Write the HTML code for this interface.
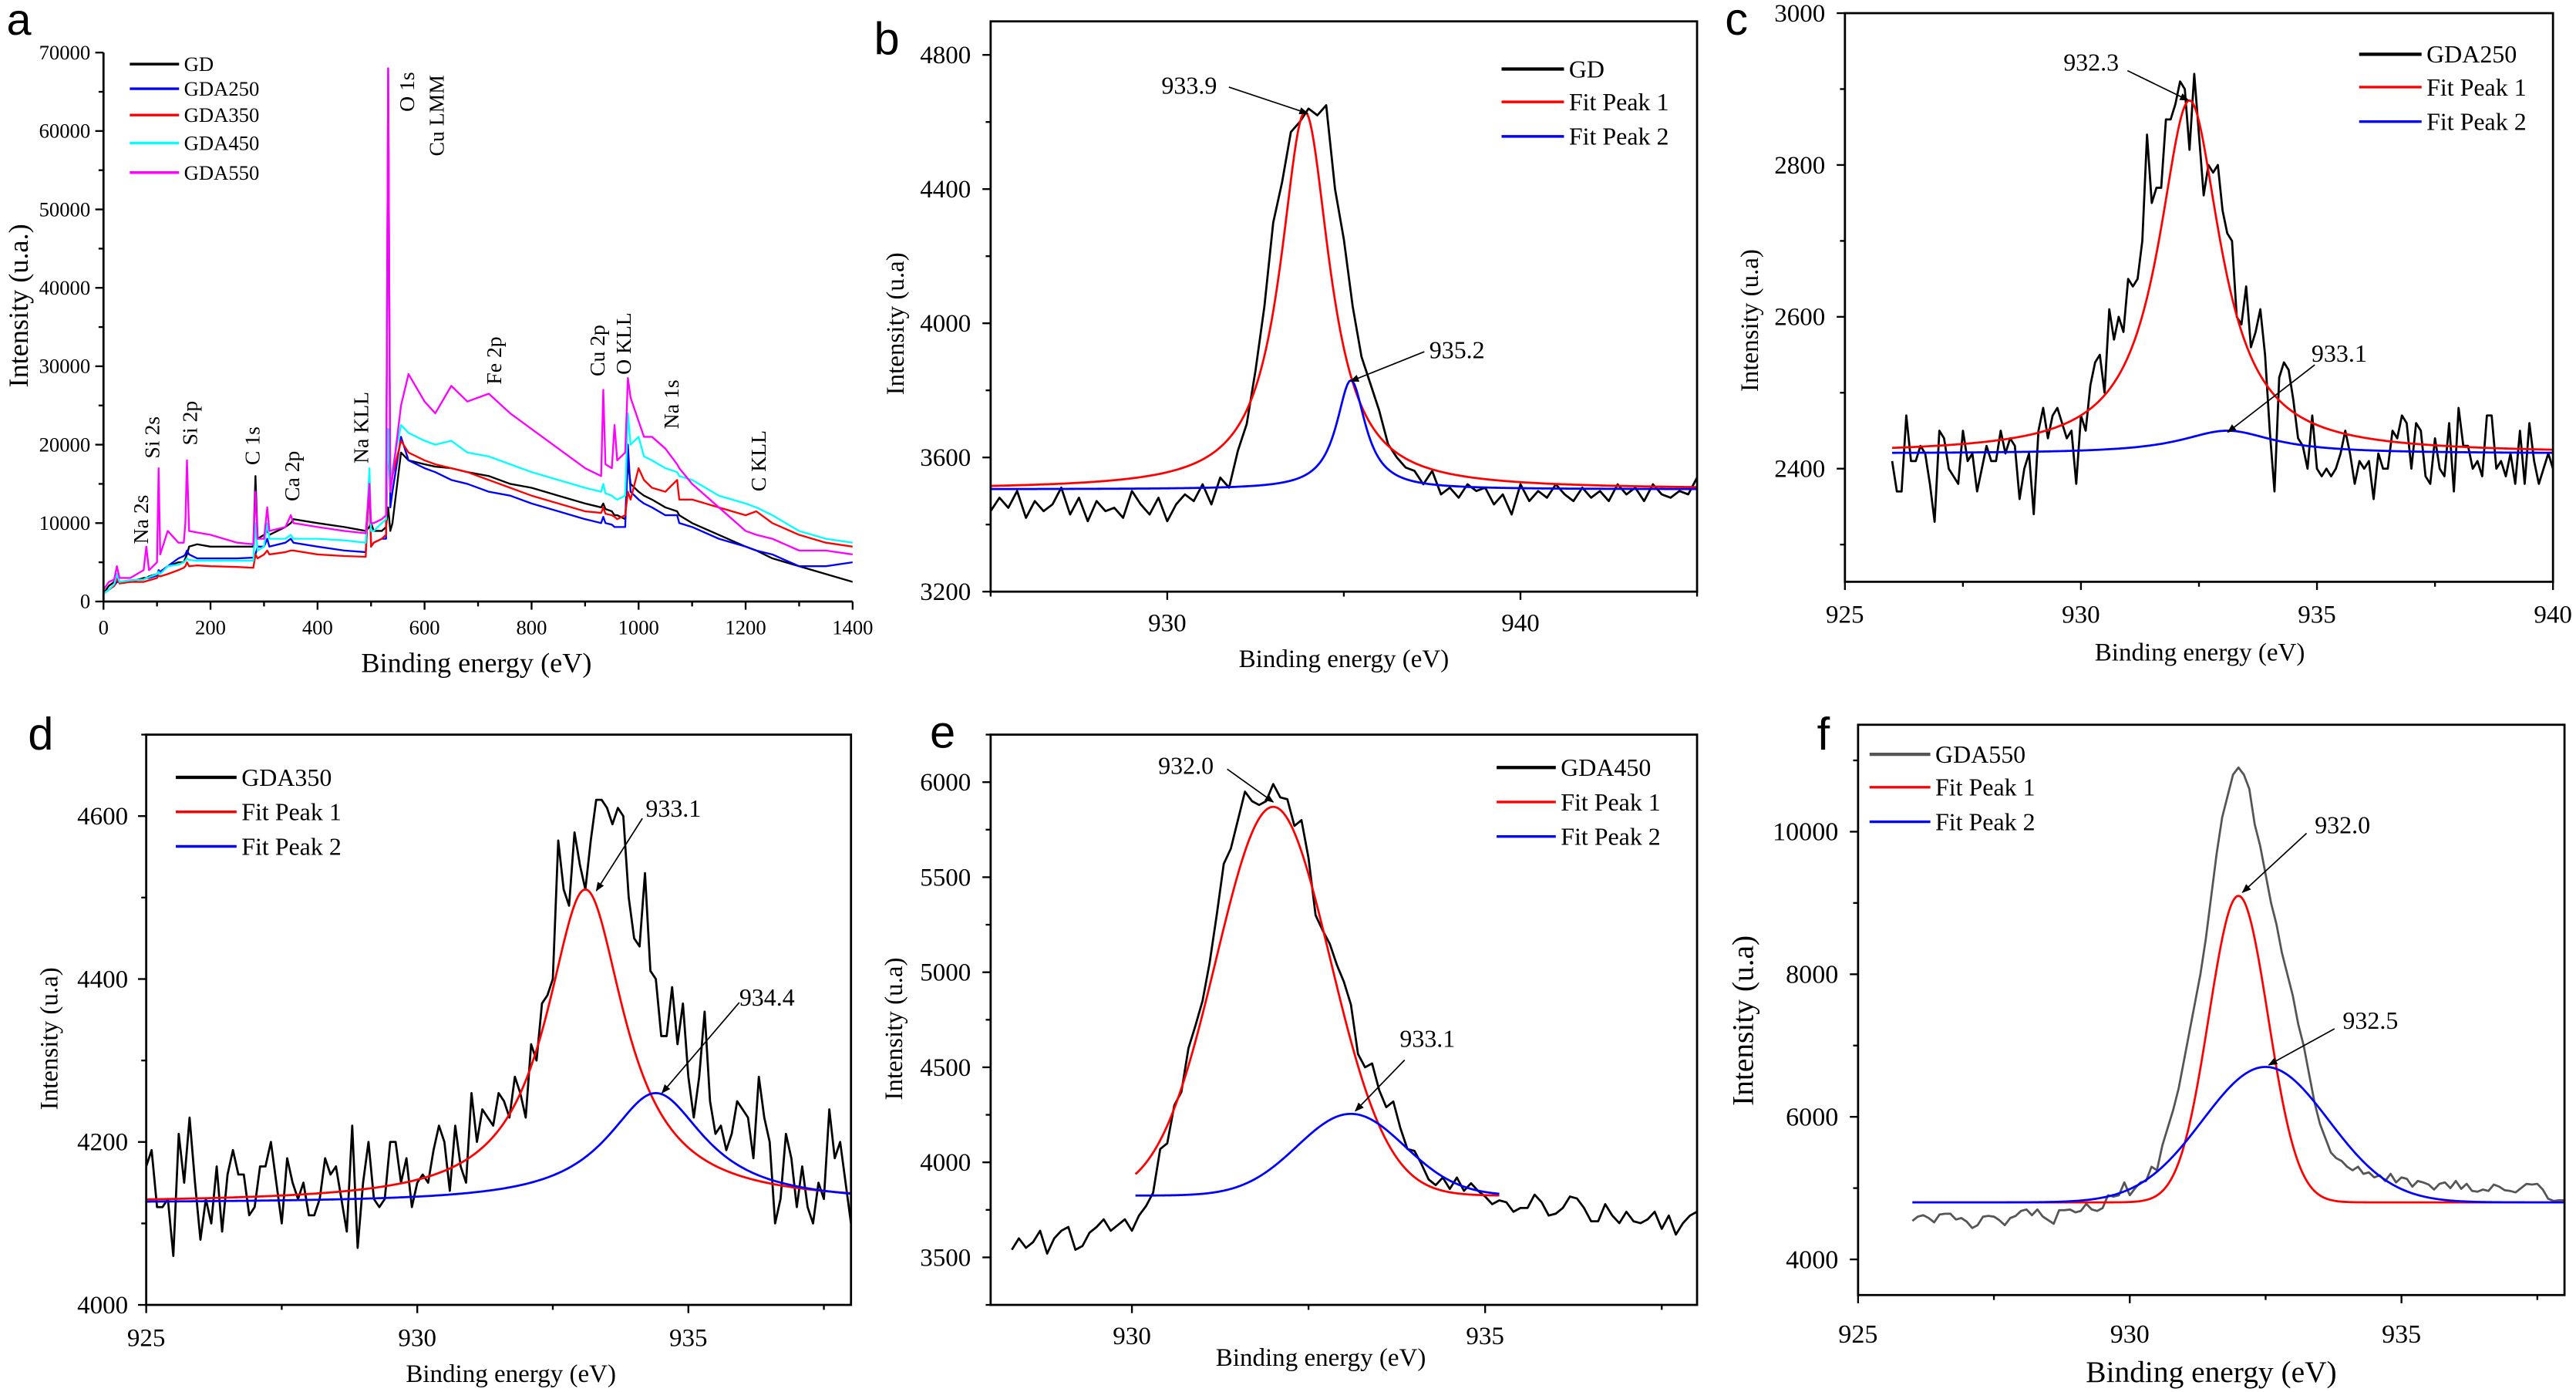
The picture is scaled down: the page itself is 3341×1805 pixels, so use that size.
<!DOCTYPE html>
<html><head><meta charset="utf-8">
<style>
html,body{margin:0;padding:0;background:#fff;}
svg{display:block;}
text{font-family:"Liberation Serif",serif;fill:#000;}
.lt{font-family:"Liberation Sans",sans-serif;}
</style></head>
<body>
<svg id="fig" xmlns="http://www.w3.org/2000/svg" width="3341" height="1805" viewBox="0 0 1568 847" preserveAspectRatio="none">
<defs><marker id="ah" viewBox="0 0 10 10" refX="9" refY="5" markerWidth="7" markerHeight="7" orient="auto"><path d="M0,1 L10,5 L0,9 z" fill="#000"/></marker></defs>
</svg>
<script>
// ---------- Panel a (survey) data, intensities in thousands ----------
const aEnergy=[0,10,20,25,30, 50,75,80,85,100, 103,106,120,140,150, 153,156,160,175,200, 250,280,284,288,300, 306,310,340,350,355, 400,450,490,497,500, 505,520,528,532,536, 540,556,570,600,620, 650,680,720,760,800, 850,900,930,934,938, 950,955,960,975,980, 985,1000,1010,1025,1050, 1072,1076,1100,1150,1200, 1220,1250,1300,1350,1400];
const aGD=[1.0,2.0,2.5,3.5,2.5, 2.5,3.0,3.0,3.2,3.5, 3.8,3.6,4.5,5.0,5.0, 5.5,6.0,7.0,7.3,7.0, 7.0,7.0,16.0,8.0,8.5, 9.0,8.5,9.5,10.0,10.5, 10.0,9.5,9.0,9.5,10.0, 9.0,9.0,9.5,12.0,9.0, 10.0,19.0,18.0,17.5,17.2, 17.0,16.5,16.0,15.0,14.5, 13.5,12.5,12.0,12.5,11.8, 11.5,11.0,11.0,10.5,18.0, 15.0,14.0,13.5,13.0,12.0, 11.5,11.0,10.0,8.5,7.0, 6.5,5.5,4.5,3.5,2.5];
const aGDA250=[1.0,1.5,2.0,2.5,2.5, 2.7,2.8,3.0,3.0,3.3, 4.0,3.8,4.5,5.5,5.8, 6.0,6.5,6.0,5.5,5.5, 5.5,5.6,6.0,7.0,7.0, 8.0,7.0,7.5,8.0,7.5, 7.0,6.5,6.3,15.0,7.0, 7.5,8.0,8.0,68.0,12.0, 14.0,21.0,18.0,17.0,16.5, 15.5,15.0,14.0,13.5,12.5, 11.5,10.5,10.0,10.8,10.0, 9.8,9.5,9.5,9.5,20.0, 14.0,13.0,12.5,12.0,11.0, 11.0,10.0,9.5,8.0,7.0, 6.5,6.0,4.5,4.5,5.0];
const aGDA350=[1.0,1.5,2.0,3.0,2.3, 2.5,2.5,2.6,2.7,3.0, 3.3,3.2,3.5,4.0,4.3, 4.5,5.0,4.5,4.6,4.5, 4.4,4.3,6.0,5.5,6.0, 6.5,6.0,6.3,6.5,6.5, 6.0,5.8,5.7,16.0,7.0, 7.5,8.0,8.5,21.0,14.0, 16.0,20.5,19.0,18.0,17.5, 17.0,16.5,15.5,14.5,13.5, 12.5,11.5,11.3,12.0,11.2, 11.0,10.8,10.5,11.0,14.0, 13.0,17.0,15.5,14.5,14.0, 15.5,13.0,13.0,12.0,11.0, 11.5,10.0,8.5,7.5,7.0];
const aGDA450=[1.0,1.5,2.2,3.5,2.5, 2.7,2.8,3.0,3.1,3.5, 3.8,3.5,4.5,4.7,5.0, 5.2,5.5,5.3,5.2,5.2, 5.2,5.2,10.0,6.5,7.0, 10.0,8.0,8.0,8.5,8.0, 8.0,7.8,7.5,17.0,9.0, 9.0,10.0,10.5,22.0,14.0, 17.0,22.5,21.5,20.5,20.0, 20.5,19.0,18.5,17.5,16.5, 15.5,14.5,14.0,15.0,13.8, 13.5,13.2,13.0,13.5,24.0, 20.0,21.0,18.5,18.0,17.0, 16.5,16.0,15.5,13.5,12.5, 12.0,11.0,9.0,8.0,7.5];
const aGDA550=[1.5,2.5,2.8,4.5,3.0, 3.0,4.0,7.0,4.0,5.0, 17.0,6.0,9.0,7.5,7.5, 10.0,18.0,9.0,8.8,8.5, 7.5,7.3,14.0,8.0,8.0, 12.0,9.0,9.5,11.0,10.0, 9.5,9.0,8.7,15.0,10.0, 10.0,10.5,11.0,68.0,14.0, 16.0,25.0,29.0,25.5,24.0, 27.5,25.5,26.5,24.0,22.0, 19.5,17.0,16.0,27.0,17.5, 17.0,22.5,18.0,19.0,28.5, 26.0,23.0,21.0,21.0,19.5, 17.5,17.0,15.0,12.0,9.0, 8.5,8.0,6.5,6.5,6.0];
const aSeriesNames=["GD","GDA250","GDA350","GDA450","GDA550"];

// ---------- Panel b (GD) ----------
const bStart=925, bStep=0.25;
const bGD=[3440,3480,3450,3500,3420,3470,3440,3460,3510,3430,3480,3410,3470,3440,3450,3420,3500,3460,3430,3480,3410,3460,3490,3470,3520,3460,3540,3510,3620,3700,3860,4050,4300,4420,4570,4600,4640,4620,4650,4400,4250,4050,3900,3820,3740,3640,3600,3570,3560,3520,3560,3490,3510,3480,3520,3500,3510,3460,3490,3430,3520,3470,3500,3480,3520,3490,3470,3510,3480,3500,3470,3520,3490,3510,3470,3520,3490,3480,3500,3490,3540];
const bFit1=[933.9,1125,0.85,3505];
const bFit2=[935.2,325,0.5,3505];

// ---------- Panel c (GDA250) ----------
const cStart=926, cStep=0.1;
const cGDA250=[2410,2370,2370,2470,2410,2410,2430,2420,2380,2330,2450,2440,2400,2390,2380,2450,2410,2420,2370,2400,2430,2410,2410,2450,2420,2440,2430,2360,2400,2420,2340,2450,2480,2440,2470,2480,2460,2440,2450,2380,2470,2450,2510,2540,2550,2500,2610,2570,2600,2580,2650,2640,2650,2700,2840,2750,2770,2770,2860,2860,2880,2910,2900,2820,2920,2840,2760,2800,2790,2800,2740,2710,2700,2600,2590,2640,2560,2580,2610,2550,2450,2370,2520,2540,2530,2490,2440,2430,2400,2470,2400,2390,2400,2390,2400,2420,2450,2420,2380,2410,2400,2410,2360,2420,2400,2400,2450,2440,2470,2460,2400,2460,2450,2390,2380,2440,2400,2390,2460,2370,2480,2430,2430,2400,2410,2390,2470,2470,2400,2410,2390,2420,2380,2450,2380,2460,2410,2380,2400,2420,2400];
const cFit1=[932.3,465,0.8,2420];
const cFit2=[933.1,30,1.2,2420];

// ---------- Panel d (GDA350) ----------
const dStart=925, dStep=0.1;
const dGDA350=[4170,4190,4120,4120,4130,4060,4210,4150,4230,4150,4080,4130,4100,4170,4090,4160,4190,4160,4160,4110,4120,4170,4170,4200,4150,4100,4180,4150,4130,4150,4110,4110,4130,4180,4160,4170,4130,4090,4220,4070,4150,4200,4130,4120,4130,4200,4200,4150,4180,4120,4150,4160,4150,4190,4220,4200,4140,4220,4170,4150,4260,4200,4240,4230,4220,4260,4250,4230,4280,4260,4230,4320,4300,4370,4380,4400,4570,4510,4490,4580,4540,4510,4570,4620,4620,4610,4590,4610,4600,4500,4450,4440,4530,4410,4400,4330,4330,4390,4320,4370,4280,4230,4280,4360,4250,4210,4220,4190,4210,4250,4240,4230,4180,4280,4230,4200,4100,4130,4210,4180,4120,4170,4120,4100,4150,4130,4240,4180,4200,4150,4100];
const dFit1=[933.1,385,0.88,4125];
const dFit2=[934.4,135,1.1,4125];

// ---------- Panel e (GDA450) ----------
const eStart=928.3, eStep=0.1;
const eGDA450=[3540,3600,3550,3580,3640,3520,3600,3640,3660,3540,3560,3630,3660,3700,3640,3670,3700,3640,3720,3770,3840,4070,4100,4300,4370,4600,4720,4850,5050,5300,5570,5650,5800,5950,5900,5880,5900,5990,5920,5910,5770,5800,5600,5300,5220,5150,5040,4950,4830,4570,4500,4520,4380,4290,4320,4180,4070,4060,3990,3910,3880,3920,3860,3920,3850,3890,3850,3820,3780,3800,3790,3740,3760,3760,3830,3790,3720,3730,3760,3820,3810,3760,3690,3690,3780,3720,3680,3740,3690,3680,3700,3740,3650,3720,3620,3680,3720,3740];
const eFit1=[932.0,2045,0.81,3825];
const eFit2=[933.1,430,0.76,3825];
const eFitRange=[930.05,935.2];

// ---------- Panel f (GDA550) ----------
const fStart=926, fStep=0.1;
const fGDA550=[4540,4600,4620,4580,4520,4630,4640,4640,4560,4580,4530,4440,4480,4600,4610,4600,4550,4480,4580,4610,4680,4700,4620,4700,4600,4550,4500,4690,4690,4700,4660,4680,4780,4700,4680,4720,4900,4880,4900,5080,
4900,5000,5080,5100,5300,5250,5600,5850,6100,6400,6800,7200,7600,8000,8500,9100,9700,10200,10500,10800,10900,10800,10600,10100,9800,9400,9000,8700,8300,8000,7700,7300,7000,6600,6200,5900,5700,5500,
5420,5380,5300,5250,5300,5200,5220,5150,5180,5100,5200,5080,5150,5130,5020,5100,5080,5050,4980,5060,5080,5000,5100,4990,5060,4960,4950,4980,4960,5050,5020,4970,4960,4940,5000,5060,5050,5060,4980,4850,4820,4830,4830];
const fFit1=[932.0,4300,0.545,4800];
const fFit2=[932.5,1900,1.16,4800];
const fFitRange=[926,938];

// ---------- helpers ----------
const svg=document.getElementById('fig');
const NS='http://www.w3.org/2000/svg';
function mk(tag,attrs,name,parent){
  const e=document.createElementNS(NS,tag);
  for(const k in attrs) e.setAttribute(k,attrs[k]);
  
  
  (parent||svg).appendChild(e);
  return e;
}
function txt(s,x,y,size,name,opts){
  opts=opts||{};
  const a={x:x,y:y,'font-size':size};
  if(opts.anchor) a['text-anchor']=opts.anchor;
  if(opts.rot) a.transform='rotate(-90 '+x+' '+y+')';
  if(opts.cls) a['class']=opts.cls;
  const t=mk('text',a,name,opts.parent);
  t.textContent=s;
  return t;
}
function lor(x,p){const d=(x-p[0])/p[2];return p[3]+p[1]/(1+d*d);}
function gau(x,p){const d=(x-p[0])/p[2];return p[3]+p[1]*Math.exp(-0.5*d*d);}

function axes(P){
  const g=mk('g',{},P.id+'-panel');
  P.g=g;
  P.sx=v=>P.L+(v-P.x0)/(P.x1-P.x0)*(P.R-P.L);
  P.sy=v=>P.B-(v-P.y0)/(P.y1-P.y0)*(P.B-P.T);
  const cp=mk('clipPath',{id:'clip-'+P.id},P.id+'-clip',g);
  mk('rect',{x:P.L,y:P.T,width:P.R-P.L,height:P.B-P.T},P.id+'-clip-rect',cp);
  P.plot=mk('g',{'clip-path':'url(#clip-'+P.id+')'},P.id+'-plot-area',g);
  if(P.box){
    mk('rect',{x:P.L,y:P.T,width:P.R-P.L,height:P.B-P.T,fill:'none',stroke:'#000','stroke-width':1.3},P.id+'-frame',g);
  }else{
    mk('line',{x1:P.L,y1:P.T,x2:P.L,y2:P.B,stroke:'#000','stroke-width':1.3},P.id+'-y-axis',g);
    mk('line',{x1:P.L,y1:P.B,x2:P.R,y2:P.B,stroke:'#000','stroke-width':1.3},P.id+'-x-axis',g);
  }
  const eps=1e-6;
  for(let v=Math.ceil(P.x0/P.xMin-eps)*P.xMin; v<=P.x1+eps; v+=P.xMin){
    const maj=Math.abs(v/P.xMaj-Math.round(v/P.xMaj))<1e-6;
    const x=P.sx(v);
    mk('line',{x1:x,y1:P.B,x2:x,y2:P.B+(maj?5:3),stroke:'#000','stroke-width':1.1},P.id+'-x-tick',g);
    if(maj) txt(String(Math.round(v)),x,P.xlabY,P.fs,P.id+'-x-tick-label',{anchor:'middle',parent:g});
  }
  for(let v=Math.ceil(P.y0/P.yMin-eps)*P.yMin; v<=P.y1+eps; v+=P.yMin){
    const maj=Math.abs(v/P.yMaj-Math.round(v/P.yMaj))<1e-6;
    const y=P.sy(v);
    mk('line',{x1:P.L,y1:y,x2:P.L-(maj?5:3),y2:y,stroke:'#000','stroke-width':1.1},P.id+'-y-tick',g);
    if(maj) txt(String(Math.round(v)),P.ylabX,y+P.fs*0.33,P.fs,P.id+'-y-tick-label',{anchor:'end',parent:g});
  }
  txt(P.xTitle,P.xtX,P.xtY,P.tfs,P.id+'-x-axis-title',{anchor:'middle',parent:g});
  txt(P.yTitle,P.ytX,P.ytY,P.tfs,P.id+'-y-axis-title',{anchor:'middle',rot:true,parent:g});
  txt(P.letter,P.lx,P.ly,P.lfs||28,P.id+'-panel-letter',{cls:'lt',parent:g});
  return P;
}
function seriesXY(P,xs,ys,color,name,w){
  const pts=xs.map((x,i)=>P.sx(x).toFixed(2)+','+P.sy(ys[i]).toFixed(2)).join(' ');
  mk('polyline',{points:pts,fill:'none',stroke:color,'stroke-width':w||1.3,'stroke-linejoin':'round'},name,P.plot);
}
function uniform(P,start,step,ys,color,name){
  const xs=ys.map((_,i)=>start+i*step);
  seriesXY(P,xs,ys,color,name);
}
function fitCurve(P,fn,params,a,b,color,name){
  const xs=[],ys=[];
  for(let i=0;i<=400;i++){const x=a+(b-a)*i/400;xs.push(x);ys.push(fn(x,params));}
  seriesXY(P,xs,ys,color,name,1.3);
}
function legend(P,x,ys,items,fs,lw){
  const g=mk('g',{},P.id+'-legend',P.g);
  items.forEach((it,i)=>{
    mk('line',{x1:x,y1:ys[i],x2:x+lw,y2:ys[i],stroke:it[1],'stroke-width':it[2]||1.6},P.id+'-legend-swatch',g);
    txt(it[0],x+lw+3,ys[i]+fs*0.34,fs,P.id+'-legend-entry',{parent:g});
  });
}
function annot(P,label,tx,ty,ax1,ay1,ax2,ay2,fs){
  txt(label,tx,ty,fs,P.id+'-peak-label',{parent:P.g});
  mk('line',{x1:ax1,y1:ay1,x2:ax2,y2:ay2,stroke:'#000','stroke-width':0.8,'marker-end':'url(#ah)'},P.id+'-peak-arrow',P.g);
}
const fitCols=['#ff0000','#0000ff'];

// ---------- Panel a ----------
const A=axes({id:'a',L:63,R:519,T:32,B:366,x0:0,x1:1400,y0:0,y1:70000,xMaj:200,xMin:100,yMaj:10000,yMin:5000,box:false,
  fs:12.5,xlabY:386,ylabX:55,xTitle:'Binding energy (eV)',xtX:290,xtY:409,tfs:17,yTitle:'Intensity (u.a.)',ytX:17,ytY:186,letter:'a',lx:4,ly:21,lfs:27});
const aCols=['#000000','#0000ff','#ff0000','#00ffff','#ff00ff'];
[aGD,aGDA250,aGDA350,aGDA450,aGDA550].forEach((s,i)=>{
  seriesXY(A,aEnergy,s.map(v=>v*1000),aCols[i],'a-series-'+aSeriesNames[i].toLowerCase(),1.1);
});
legend(A,79,[39,54,70,87,105],aSeriesNames.map((n,i)=>[n,aCols[i],1.6]),12.5,30);
const aPeaks=[['Na 2s',90,331],['Si 2s',97,279],['Si 2p',120,271],['C 1s',158,283],['Ca 2p',182,305],['Na KLL',224,282],['O 1s',252,68],['Cu LMM',270,95],['Fe 2p',305,234],['Cu 2p',368,229],['O KLL',384,228],['Na 1s',413,261],['C KLL',466,299]];
aPeaks.forEach(p=>txt(p[0],p[1],p[2],13,'a-peak-assignment',{rot:true,parent:A.g}));

// ---------- Panel b ----------
const B=axes({id:'b',L:603,R:1033,T:13,B:360,x0:925,x1:945,y0:3200,y1:4900,xMaj:10,xMin:5,yMaj:400,yMin:200,box:true,
  fs:15.5,xlabY:384,ylabX:591,xTitle:'Binding energy (eV)',xtX:818,xtY:406,tfs:15.5,yTitle:'Intensity (u.a)',ytX:550,ytY:197,letter:'b',lx:532,ly:33});
uniform(B,bStart,bStep,bGD,'#000','b-series-gd');
fitCurve(B,lor,bFit1,925,945,fitCols[0],'b-fit-peak-1');
fitCurve(B,lor,bFit2,925,945,fitCols[1],'b-fit-peak-2');
legend(B,914,[42,62,83],[['GD','#000',2],['Fit Peak 1','#f00'],['Fit Peak 2','#00f']],15,38);
annot(B,'933.9',707,57,748,53,796,69,15);
annot(B,'935.2',870,218,867,214,822,232,15);

// ---------- Panel c ----------
const C=axes({id:'c',L:1123,R:1554,T:8,B:354,x0:925,x1:940,y0:2251,y1:3000,xMaj:5,xMin:2.5,yMaj:200,yMin:100,box:true,
  fs:15.5,xlabY:379,ylabX:1111,xTitle:'Binding energy (eV)',xtX:1339,xtY:402,tfs:15.5,yTitle:'Intensity (u.a)',ytX:1070,ytY:195,letter:'c',lx:1050,ly:21});
uniform(C,cStart,cStep,cGDA250,'#000','c-series-gda250');
fitCurve(C,lor,cFit1,926,940,fitCols[0],'c-fit-peak-1');
fitCurve(C,lor,cFit2,926,940,fitCols[1],'c-fit-peak-2');
legend(C,1436,[33,53,74],[['GDA250','#000',2],['Fit Peak 1','#f00'],['Fit Peak 2','#00f']],15,38);
annot(C,'932.3',1256,43,1295,43,1332,61,15);
annot(C,'933.1',1407,220,1409,222,1356,263,15);

// ---------- Panel d ----------
const D=axes({id:'d',L:89,R:518,T:447,B:794,x0:925,x1:938,y0:4000,y1:4700,xMaj:5,xMin:2.5,yMaj:200,yMin:100,box:true,
  fs:15.5,xlabY:819,ylabX:78,xTitle:'Binding energy (eV)',xtX:311,xtY:841,tfs:15.5,yTitle:'Intensity (u.a)',ytX:35,ytY:632,letter:'d',lx:17,ly:456});
uniform(D,dStart,dStep,dGDA350,'#000','d-series-gda350');
fitCurve(D,lor,dFit1,925,938,fitCols[0],'d-fit-peak-1');
fitCurve(D,lor,dFit2,925,938,fitCols[1],'d-fit-peak-2');
legend(D,107,[473,494,515],[['GDA350','#000',2],['Fit Peak 1','#f00'],['Fit Peak 2','#00f']],15,37);
annot(D,'933.1',393,497,391,498,363,542,15);
annot(D,'934.4',450,612,450,610,403,665,15);

// ---------- Panel e ----------
const E=axes({id:'e',L:603,R:1033,T:447,B:794,x0:928,x1:938,y0:3250,y1:6250,xMaj:5,xMin:2.5,yMaj:500,yMin:250,box:true,
  fs:15.5,xlabY:818,ylabX:591,xTitle:'Binding energy (eV)',xtX:804,xtY:831,tfs:15.5,yTitle:'Intensity (u.a)',ytX:549,ytY:626,letter:'e',lx:566,ly:455});
uniform(E,eStart,eStep,eGDA450,'#000','e-series-gda450');
fitCurve(E,gau,eFit1,eFitRange[0],eFitRange[1],fitCols[0],'e-fit-peak-1');
fitCurve(E,gau,eFit2,eFitRange[0],eFitRange[1],fitCols[1],'e-fit-peak-2');
legend(E,911,[467,488,509],[['GDA450','#000',2],['Fit Peak 1','#f00'],['Fit Peak 2','#00f']],15,36);
annot(E,'932.0',705,471,747,468,775,488,15);
annot(E,'933.1',852,637,855,645,825,676,15);

// ---------- Panel f ----------
const F=axes({id:'f',L:1131,R:1561,T:441,B:788,x0:925,x1:938,y0:3500,y1:11500,xMaj:5,xMin:2.5,yMaj:2000,yMin:1000,box:true,
  fs:16,xlabY:817,ylabX:1119,xTitle:'Binding energy (eV)',xtX:1346,xtY:841,tfs:18.5,yTitle:'Intensity (u.a)',ytX:1067,ytY:621,letter:'f',lx:1106,ly:456});
uniform(F,fStart,fStep,fGDA550,'#555555','f-series-gda550');
fitCurve(F,gau,fFit1,fFitRange[0],fFitRange[1],fitCols[0],'f-fit-peak-1');
fitCurve(F,gau,fFit2,fFitRange[0],fFitRange[1],fitCols[1],'f-fit-peak-2');
legend(F,1138,[459,479,500],[['GDA550','#555',2],['Fit Peak 1','#f00'],['Fit Peak 2','#00f']],15,37);
annot(F,'932.0',1409,507,1404,507,1365,543,15);
annot(F,'932.5',1426,626,1421,626,1381,648,15);
</script>
</body></html>
